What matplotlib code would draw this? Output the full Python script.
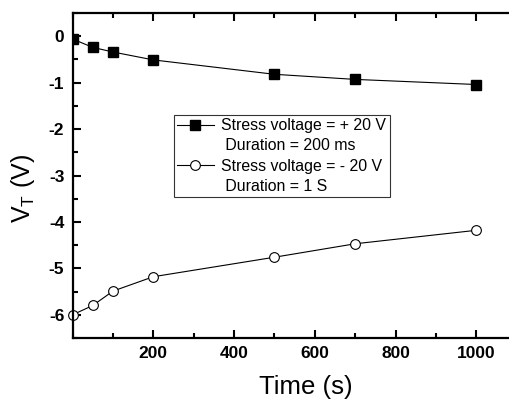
from matplotlib import pyplot as plt
from matplotlib.ticker import MultipleLocator
from matplotlib.lines import Line2D
import numpy as np

# data
time_s = [0, 50, 100, 200, 500, 700, 1000]
vt_pos = [-0.06, -0.24, -0.34, -0.51, -0.82, -0.93, -1.04]
vt_neg = [-6.0, -5.80, -5.49, -5.18, -4.76, -4.47, -4.18]

legend_rows = ['Stress voltage = + 20 V', ' Duration = 200 ms',
               'Stress voltage = - 20 V', ' Duration = 1 S']

plt.rcParams['font.family'] = ['Liberation Sans', 'DejaVu Sans']
plt.rcParams['mathtext.fontset'] = 'custom'
plt.rcParams['mathtext.rm'] = 'Liberation Sans'
plt.rcParams['axes.unicode_minus'] = False

fig = plt.figure(figsize=(5.09, 4.03), dpi=100)
# axes runs past the right edge of the picture (cropped like the original)
ax = fig.add_axes([0.1426, 0.1613, 0.9163, 0.8064])

line_pos, = ax.plot(time_s, vt_pos, '-', color='black', lw=0.8, marker='s', ms=6.5,
                    mfc='black', mec='black')
line_neg, = ax.plot(time_s, vt_neg, '-', color='black', lw=0.8, marker='o', ms=7,
                    mfc='white', mec='black', mew=0.8, clip_on=False)

ax.set_xlim(0, 1155)
ax.set_ylim(-6.5, 0.5)

ax.xaxis.set_minor_locator(MultipleLocator(100))
ax.yaxis.set_major_locator(MultipleLocator(1))
ax.yaxis.set_minor_locator(MultipleLocator(0.5))
ax.set_xticks([200, 400, 600, 800, 1000])

ax.tick_params(which='both', direction='in', top=True, right=False, width=1.5)
ax.tick_params(which='major', length=6, labelsize=12.5, pad=6)
ax.tick_params(which='minor', length=3.5)
for lab in ax.get_xticklabels() + ax.get_yticklabels():
    lab.set_fontweight('bold')

for side in ['left', 'bottom', 'top']:
    ax.spines[side].set_linewidth(1.6)
ax.spines['right'].set_visible(False)

ax.set_xlabel('Time (s)', fontsize=18.5)
ax.set_ylabel(r'V$_\mathregular{T}$ (V)', fontsize=18)
ax.xaxis.set_label_coords(0.5, -0.115)
ax.yaxis.set_label_coords(-0.076, 0.4615)

# blank handles so the "Duration" rows sit under their entry without a symbol
blank = Line2D([], [], linestyle='none', marker='none')
leg = ax.legend([line_pos, blank, line_neg, blank], legend_rows,
                loc='upper left', bbox_to_anchor=(0.2174, 0.686), fontsize=11.4,
                frameon=True, fancybox=False, edgecolor='black', handlelength=2.3,
                handletextpad=0.5, borderpad=0.2, labelspacing=0.33,
                borderaxespad=0)
leg.get_frame().set_linewidth(0.8)

fig.savefig('out.png', dpi=100)
